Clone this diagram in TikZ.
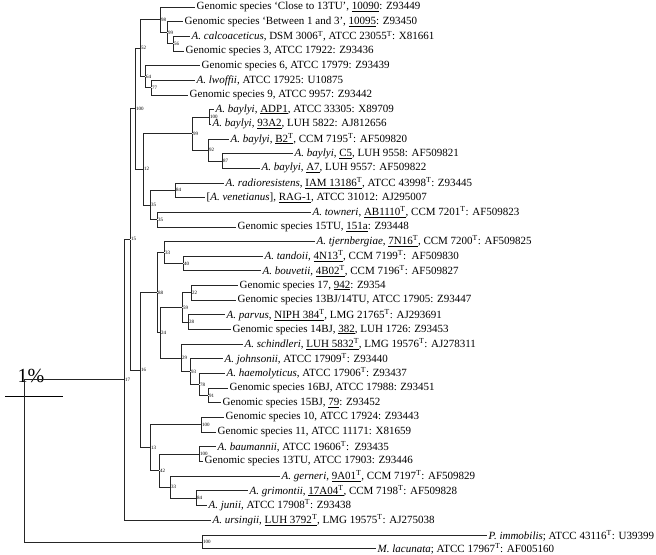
\documentclass[tikz,border=0pt]{standalone}
\usepackage{fontspec}
\setmainfont{Liberation Serif}
\newcommand{\sT}{\textsuperscript{T}}
\begin{document}
\begin{tikzpicture}[x=1pt, y=-14.66pt,
  leaf/.style={anchor=west, inner sep=1.5pt, font=\fontsize{11}{13}\selectfont},
  fork/.style={inner sep=0pt, minimum size=0pt},
  boot/.style={font=\fontsize{5}{6}\selectfont, inner sep=0.6pt, anchor=west},
  every edge/.style={draw=black!85, line width=0.8pt, to path={|- (\tikztotarget)}}]
\useasboundingbox (0,-0.4775) rectangle (656,37.38);
% leaves
\node[leaf] (l1) at (195,0) {Genomic species `Close to 13TU', \underline{10090}: Z93449};
\node[leaf] (l2) at (183,1) {Genomic species `Between 1 and 3', \underline{10095}: Z93450};
\node[leaf] (l3) at (190,2) {\textit{A. calcoaceticus}, DSM 3006\sT, ATCC 23055\sT: X81661};
\node[leaf] (l4) at (184,3) {Genomic species 3, ATCC 17922: Z93436};
\node[leaf] (l5) at (200,4) {Genomic species 6, ATCC 17979: Z93439};
\node[leaf] (l6) at (195,5) {\textit{A. lwoffii}, ATCC 17925: U10875};
\node[leaf] (l7) at (188,6) {Genomic species 9, ATCC 9957: Z93442};
\node[leaf] (l8) at (214,7) {\textit{A. baylyi}, \underline{ADP1}, ATCC 33305: X89709};
\node[leaf] (l9) at (211,8) {\textit{A. baylyi}, \underline{93A2}, LUH 5822: AJ812656};
\node[leaf] (l10) at (229,9) {\textit{A. baylyi}, \underline{B2\sT}, CCM 7195\sT: AF509820};
\node[leaf] (l11) at (293,10) {\textit{A. baylyi}, \underline{C5}, LUH 9558: AF509821};
\node[leaf] (l12) at (260,11) {\textit{A. baylyi}, \underline{A7}, LUH 9557: AF509822};
\node[leaf] (l13) at (224,12) {\textit{A. radioresistens}, \underline{IAM 13186\sT}, ATCC 43998\sT: Z93445};
\node[leaf] (l14) at (205,13) {[\textit{A. venetianus}], \underline{RAG-1}, ATCC 31012: AJ295007};
\node[leaf] (l15) at (311,14) {\textit{A. towneri}, \underline{AB1110\sT}, CCM 7201\sT: AF509823};
\node[leaf] (l16) at (236,15) {Genomic species 15TU, \underline{151a}: Z93448};
\node[leaf] (l17) at (315,16) {\textit{A. tjernbergiae}, \underline{7N16\sT}, CCM 7200\sT: AF509825};
\node[leaf] (l18) at (263,17) {\textit{A. tandoii}, \underline{4N13\sT}, CCM 7199\sT:\ \ AF509830};
\node[leaf] (l19) at (261,18) {\textit{A. bouvetii}, \underline{4B02\sT}, CCM 7196\sT: AF509827};
\node[leaf] (l20) at (238,19) {Genomic species 17, \underline{942}: Z9354};
\node[leaf] (l21) at (236,20) {Genomic species 13BJ/14TU, ATCC 17905: Z93447};
\node[leaf] (l22) at (225,21) {\textit{A. parvus}, \underline{NIPH 384\sT}, LMG 21765\sT: AJ293691};
\node[leaf] (l23) at (231,22) {Genomic species 14BJ, \underline{382}, LUH 1726: Z93453};
\node[leaf] (l24) at (243,23) {\textit{A. schindleri}, \underline{LUH 5832\sT}, LMG 19576\sT: AJ278311};
\node[leaf] (l25) at (223,24) {\textit{A. johnsonii}, ATCC 17909\sT: Z93440};
\node[leaf] (l26) at (225,25) {\textit{A. haemolyticus}, ATCC 17906\sT: Z93437};
\node[leaf] (l27) at (228,26) {Genomic species 16BJ, ATCC 17988: Z93451};
\node[leaf] (l28) at (221,27) {Genomic species 15BJ, \underline{79}: Z93452};
\node[leaf] (l29) at (224,28) {Genomic species 10, ATCC 17924: Z93443};
\node[leaf] (l30) at (216,29) {Genomic species 11, ATCC 11171: X81659};
\node[leaf] (l31) at (216,30) {\textit{A. baumannii}, ATCC 19606\sT:\ \ Z93435};
\node[leaf] (l32) at (203,31) {Genomic species 13TU, ATCC 17903: Z93446};
\node[leaf] (l33) at (280,32) {\textit{A. gerneri}, \underline{9A01\sT}, CCM 7197\sT: AF509829};
\node[leaf] (l34) at (248,33) {\textit{A. grimontii}, \underline{17A04\sT}, CCM 7198\sT: AF509828};
\node[leaf] (l35) at (207,34) {\textit{A. junii}, ATCC 17908\sT: Z93438};
\node[leaf] (l36) at (211,35) {\textit{A. ursingii}, \underline{LUH 3792\sT}, LMG 19575\sT: AJ275038};
\node[leaf] (l37) at (487,36.05) {\textit{P. immobilis}; ATCC 43116\sT: U39399};
\node[leaf] (l38) at (376,36.95) {\textit{M. lacunata}; ATCC 17967\sT: AF005160};
% forks
\node[fork, label={[boot]0:98}] (n98) at (160,0.875) {};
\node[fork, label={[boot]0:99}] (n99) at (167,1.75) {};
\node[fork, label={[boot]0:56}] (n56) at (173,2.5) {};
\node[fork, label={[boot]0:64}] (n64) at (145,4.75) {};
\node[fork, label={[boot]0:77}] (n77) at (151,5.5) {};
\node[fork, label={[boot]0:52}] (n52) at (140,2.8125) {};
\node[fork, label={[boot]0:100}] (n100a) at (209,7.5) {};
\node[fork, label={[boot]0:92}] (n92) at (208,9.75) {};
\node[fork, label={[boot]0:87}] (n87) at (222,10.5) {};
\node[fork, label={[boot]0:99}] (n99b) at (192,8.625) {};
\node[fork, label={[boot]0:84}] (n84) at (175,12.5) {};
\node[fork, label={[boot]0:35}] (n35a) at (157,14.5) {};
\node[fork, label={[boot]0:35}] (n35b) at (150,13.5) {};
\node[fork, label={[boot]0:12}] (n12) at (143,11.0625) {};
\node[fork, label={[boot]0:40}] (n40) at (183,17.5) {};
\node[fork, label={[boot]0:33}] (n33) at (164,16.75) {};
\node[fork, label={[boot]0:22}] (n22) at (191,19.5) {};
\node[fork, label={[boot]0:28}] (n28) at (188,21.5) {};
\node[fork, label={[boot]0:59}] (n59) at (182,20.5) {};
\node[fork, label={[boot]0:91}] (n91) at (208,26.5) {};
\node[fork, label={[boot]0:78}] (n78) at (199,25.75) {};
\node[fork, label={[boot]0:93}] (n93) at (190,24.875) {};
\node[fork, label={[boot]0:29}] (n29) at (181,23.9375) {};
\node[fork, label={[boot]0:24}] (n24) at (160,22.22) {};
\node[fork, label={[boot]0:88}] (n88) at (157,19.48) {};
\node[fork, label={[boot]0:100}] (n100c) at (201,28.5) {};
\node[fork, label={[boot]0:100}] (n100d) at (199,30.5) {};
\node[fork, label={[boot]0:84}] (n84b) at (196,33.5) {};
\node[fork, label={[boot]0:33}] (n33b) at (170,32.75) {};
\node[fork, label={[boot]0:42}] (n42) at (159,31.625) {};
\node[fork, label={[boot]0:13}] (n13) at (150,30.0625) {};
\node[fork, label={[boot]0:16}] (n16) at (140,24.77) {};
\node[fork, label={[boot]0:100}] (n100g) at (135,6.94) {};
\node[fork, label={[boot]0:15}] (n15) at (130,15.85) {};
\node[fork, label={[boot]0:17}] (n17) at (124,25.43) {};
\node[fork, label={[boot]0:100}] (nout) at (202,36.5) {};
\node[fork] (root) at (24,31.03) {};
% scale bar
\node[font=\fontsize{20}{22}\selectfont, inner sep=0pt] (pct) at (31,25.2) {1\%};
\coordinate (bar1) at (5,26.55);
\coordinate (bar2) at (63,26.55);
\draw[line width=0.8pt] (bar1) -- (bar2);
% branches
\path (n56) edge (l3.west) (n56) edge (l4.west);
\path (n99) edge (l2.west) (n99) edge (n56);
\path (n98) edge (l1.west) (n98) edge (n99);
\path (n77) edge (l6.west) (n77) edge (l7.west);
\path (n64) edge (l5.west) (n64) edge (n77);
\path (n52) edge (n98) (n52) edge (n64);
\path (n100a) edge (l8.west) (n100a) edge (l9.west);
\path (n87) edge (l11.west) (n87) edge (l12.west);
\path (n92) edge (l10.west) (n92) edge (n87);
\path (n99b) edge (n100a) (n99b) edge (n92);
\path (n84) edge (l13.west) (n84) edge (l14.west);
\path (n35a) edge (l15.west) (n35a) edge (l16.west);
\path (n35b) edge (n84) (n35b) edge (n35a);
\path (n12) edge (n99b) (n12) edge (n35b);
\path (n40) edge (l18.west) (n40) edge (l19.west);
\path (n33) edge (l17.west) (n33) edge (n40);
\path (n22) edge (l20.west) (n22) edge (l21.west);
\path (n28) edge (l22.west) (n28) edge (l23.west);
\path (n59) edge (n22) (n59) edge (n28);
\path (n91) edge (l27.west) (n91) edge (l28.west);
\path (n78) edge (l26.west) (n78) edge (n91);
\path (n93) edge (l25.west) (n93) edge (n78);
\path (n29) edge (l24.west) (n29) edge (n93);
\path (n24) edge (n59) (n24) edge (n29);
\path (n88) edge (n33) (n88) edge (n24);
\path (n100c) edge (l29.west) (n100c) edge (l30.west);
\path (n100d) edge (l31.west) (n100d) edge (l32.west);
\path (n84b) edge (l34.west) (n84b) edge (l35.west);
\path (n33b) edge (l33.west) (n33b) edge (n84b);
\path (n42) edge (n100d) (n42) edge (n33b);
\path (n13) edge (n100c) (n13) edge (n42);
\path (n16) edge (n88) (n16) edge (n13);
\path (n100g) edge (n52) (n100g) edge (n12);
\path (n15) edge (n100g) (n15) edge (n16);
\path (n17) edge (n15) (n17) edge (l36.west);
\path (nout) edge (l37.west) (nout) edge (l38.west);
\path (root) edge (n17) (root) edge (nout);
\end{tikzpicture}
\end{document}
